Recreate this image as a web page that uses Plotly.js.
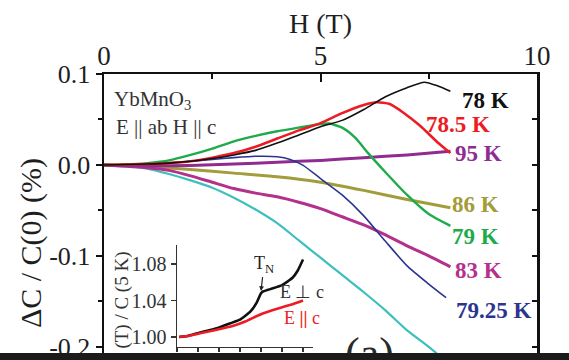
<!DOCTYPE html>
<html>
<head>
<meta charset="utf-8">
<script src="https://cdn.plot.ly/plotly-3.0.1.min.js"></script>
<style>
html,body{margin:0;padding:0;overflow:hidden;background:#fff;width:569px;height:360px;}
#chart{width:569px;height:380px;position:absolute;left:0;top:0;}
#bar{position:absolute;left:0;top:353px;width:569px;height:7px;background:#1b1b1b;z-index:10;}
</style>
</head>
<body>
<div id="chart"></div>
<div id="bar"></div>
<script>
// ---- main panel data: H (T) vs dC/C(0) (%) ----
const h78   = [0,0.5,1,1.5,2,2.5,3,3.5,4,4.5,5,5.5,6,6.5,7,7.4,7.7,8];
const c78   = [0,0.0005,0.001,0.002,0.004,0.007,0.011,0.016,0.024,0.033,0.042,0.049,0.061,0.075,0.085,0.091,0.087,0.081];
const h785  = [0,1,1.5,2,2.5,3,3.5,4,4.5,5,5.5,6,6.3,6.6,6.9,7.3,7.7,8];
const c785  = [0,0.001,0.002,0.004,0.008,0.013,0.02,0.029,0.038,0.046,0.057,0.066,0.069,0.067,0.058,0.043,0.025,0.013];
const h79   = [0,0.5,1,1.5,2,2.5,3,3.5,4,4.5,5,5.2,5.5,5.8,6.1,6.5,7,7.5,8];
const c79   = [0,0.0005,0.002,0.005,0.011,0.018,0.026,0.032,0.037,0.041,0.045,0.0455,0.041,0.03,0.013,-0.008,-0.033,-0.054,-0.067];
const h7925 = [0,1,2,2.5,3,3.5,4,4.3,4.6,5,5.5,6,6.5,7,7.5,7.9];
const c7925 = [0,0.001,0.004,0.006,0.008,0.0095,0.009,0.006,-0.0005,-0.015,-0.033,-0.056,-0.084,-0.111,-0.131,-0.146];
const h95   = [0,1,2,3,4,5,6,7,8];
const c95   = [0,-0.001,-0.0005,0.001,0.003,0.005,0.008,0.011,0.015];
const h86   = [0,1,2,3,4,5,6,7,8];
const c86   = [0,-0.002,-0.005,-0.009,-0.013,-0.019,-0.028,-0.038,-0.047];
const h83   = [0,1,1.5,2,2.5,3,3.5,4,4.5,5,5.5,6,6.5,7,7.5,8];
const c83   = [0,-0.003,-0.006,-0.012,-0.019,-0.026,-0.031,-0.035,-0.041,-0.048,-0.057,-0.066,-0.077,-0.089,-0.1,-0.112];
const hCy   = [0,0.5,1,1.5,2,2.5,3,3.5,4,4.5,5,5.5,6,6.5,7,7.5,8];
const cCy   = [0,-0.001,-0.004,-0.01,-0.017,-0.025,-0.036,-0.049,-0.064,-0.083,-0.102,-0.121,-0.14,-0.16,-0.182,-0.2,-0.22];

const seriesNames = ['80 K','86 K','83 K','95 K','79.25 K','79 K','78.5 K','78 K'];
const labelText   = ['78 K','78.5 K','95 K','86 K','79 K','83 K','79.25 K'];

// ---- inset data: C(T)/C(5 K) vs T ----
const tPerp = [2,10,22,38,53,60,70,76,80,82,86,90,100,110,115,120];
const cPerp = [1.0,1.001,1.005,1.0095,1.016,1.019,1.028,1.038,1.048,1.050,1.0515,1.053,1.057,1.065,1.073,1.085];
const tPar  = [2,10,22,38,53,65,80,90,101,110,120];
const cPar  = [1.0,1.001,1.004,1.008,1.012,1.017,1.025,1.029,1.033,1.036,1.040];

const yTickVals = [0.1,0,-0.1,-0.2];
const yTickText = ['0.1','0.0','-0.1','-0.2'];
const xTickVals = [0,5,10];
const insetYTicks = [1.00,1.04,1.08];
const insetYText = ['1.00','1.04','1.08'];

const SERIF = 'Liberation Serif';
const INK = '#1e1e1e';

function ln(x,y,color,w,name){
  return {x:x,y:y,type:'scatter',mode:'lines',name:name,
          line:{color:color,width:w,shape:'spline',smoothing:0.6},hoverinfo:'skip'};
}
const traces = [
  ln(hCy,cCy,'#3dbfbd',2.2,seriesNames[0]),
  ln(h86,c86,'#a29c3a',3,seriesNames[1]),
  ln(h83,c83,'#b3318c',3,seriesNames[2]),
  ln(h95,c95,'#8f2b91',3,seriesNames[3]),
  ln(h7925,c7925,'#2b3590',1.6,seriesNames[4]),
  ln(h79,c79,'#1fab4b',2.4,seriesNames[5]),
  ln(h785,c785,'#ed1c24',2.6,seriesNames[6]),
  ln(h78,c78,'#111111',1.6,seriesNames[7]),
  {x:tPerp,y:cPerp,xaxis:'x3',yaxis:'y3',type:'scatter',mode:'lines',
   line:{color:'#111',width:2.6,shape:'spline',smoothing:0.5},hoverinfo:'skip'},
  {x:tPar,y:cPar,xaxis:'x3',yaxis:'y3',type:'scatter',mode:'lines',
   line:{color:'#ed1c24',width:2.6,shape:'spline',smoothing:0.5},hoverinfo:'skip'},
  {x:[0],y:[0],xaxis:'x',yaxis:'y2',type:'scatter',mode:'markers',marker:{opacity:0},hoverinfo:'skip'}
];

const labelColors = ['#111111','#ed1c24','#8f2b91','#a29c3a','#1fab4b','#b3318c','#2b3590'];
const labelX = [8.80,8.18,8.64,8.59,8.59,8.64,9.0];
const labelY = [0.0714,0.045,0.0121,-0.044,-0.0791,-0.1165,-0.1604];

const annotations = [];
for(let i=0;i<labelText.length;i++){
  annotations.push({x:labelX[i],y:labelY[i],xref:'x',yref:'y',text:'<b>'+labelText[i]+'</b>',
    showarrow:false,xanchor:'center',yanchor:'middle',
    font:{family:SERIF,size:23,color:labelColors[i]}});
}
annotations.push(
  {x:0.501,y:1.172,xref:'paper',yref:'paper',text:'H (T)',showarrow:false,
   font:{family:SERIF,size:28,color:INK},xanchor:'center',yanchor:'middle'},
  {x:-0.1686,y:0.419,xref:'paper',yref:'paper',text:'\u0394C / C(0) (%)',showarrow:false,textangle:-90,
   font:{family:SERIF,size:30,color:INK},xanchor:'center',yanchor:'middle'},
  {x:0.0185,y:0.9107,xref:'paper',yref:'paper',text:'YbMnO<sub>3</sub>',showarrow:false,
   font:{family:SERIF,size:21,color:'#333'},xanchor:'left',yanchor:'middle'},
  {x:0.023,y:0.818,xref:'paper',yref:'paper',text:'E || ab H || c',showarrow:false,
   font:{family:SERIF,size:21,color:'#333'},xanchor:'left',yanchor:'middle'},
  {x:0.0416,y:0.1924,xref:'paper',yref:'paper',text:'C (T) / C (5 K)',showarrow:false,textangle:-90,
   font:{family:SERIF,size:19,color:'#333'},xanchor:'center',yanchor:'middle'},
  {x:80,y:1.0504,xref:'x3',yref:'y3',text:'T<sub>N</sub>',showarrow:true,arrowhead:2,arrowsize:0.8,
   arrowwidth:1.2,arrowcolor:'#222',ax:3,ay:-27,font:{family:SERIF,size:18,color:'#222'}},
  {x:119,y:1.0493,xref:'x3',yref:'y3',text:'E \u22a5 c',showarrow:false,
   font:{family:SERIF,size:18,color:'#333'},xanchor:'center',yanchor:'middle'},
  {x:119,y:1.0208,xref:'x3',yref:'y3',text:'E <b>||</b> c',showarrow:false,
   font:{family:SERIF,size:18,color:'#ed1c24'},xanchor:'center',yanchor:'middle'},
  {x:0.614,y:0.131,xref:'paper',yref:'paper',text:'(a)',showarrow:false,
   font:{family:SERIF,size:44,color:'#2a2a2a'},xanchor:'center',yanchor:'top'}
);

const layout = {
  width:569,height:380,
  margin:{l:104,r:32,t:74,b:15},
  paper_bgcolor:'#fff',plot_bgcolor:'rgba(0,0,0,0)',
  showlegend:false,
  font:{family:SERIF,color:INK},
  xaxis:{side:'top',range:[0,10],tickmode:'array',tickvals:xTickVals,ticks:'inside',ticklen:8,tickwidth:2,
    tickcolor:'#111',showline:true,linewidth:2.2,linecolor:'#111',showgrid:false,zeroline:false,
    ticklabelstandoff:-4,
    tickfont:{family:SERIF,size:27,color:INK},
    minor:{tickmode:'array',tickvals:[2.5,7.5],ticks:'inside',ticklen:5,tickwidth:2,tickcolor:'#111'}},
  yaxis:{range:[-0.22,0.1],tickmode:'array',tickvals:yTickVals,ticktext:yTickText,ticks:'outside',ticklen:6,
    tickwidth:2,tickcolor:'#111',showline:true,linewidth:2.5,linecolor:'#111',showgrid:false,zeroline:false,
    tickfont:{family:SERIF,size:26,color:INK},
    minor:{tickmode:'array',tickvals:[0.05,-0.05,-0.15],ticks:'outside',ticklen:4,tickwidth:2,tickcolor:'#111'}},
  yaxis2:{overlaying:'y',side:'right',range:[-0.22,0.1],tickmode:'array',tickvals:[0.1,0.05,0,-0.05,-0.1,-0.15,-0.2],
    showticklabels:false,ticks:'inside',ticklen:5,tickwidth:2,tickcolor:'#111',showline:true,linewidth:2.5,
    linecolor:'#111',showgrid:false,zeroline:false},
  xaxis3:{domain:[0.1686,0.4827],anchor:'y3',range:[0,129.5],tickmode:'array',tickvals:[0,20,40,60,80,100,120],
    showticklabels:false,ticks:'outside',ticklen:4,tickwidth:1.5,tickcolor:'#333',showline:true,linewidth:1.5,
    linecolor:'#333',showgrid:false,zeroline:false},
  yaxis3:{domain:[0.0619,0.4124],anchor:'x3',range:[0.989,1.101],tickmode:'array',tickvals:insetYTicks,
    ticktext:insetYText,ticks:'outside',ticklen:5,tickwidth:1.5,tickcolor:'#333',showline:true,linewidth:1.5,
    linecolor:'#333',showgrid:false,zeroline:false,tickfont:{family:SERIF,size:20,color:'#333'}},
  annotations:annotations
};

Plotly.newPlot('chart',traces,layout,{displayModeBar:false,staticPlot:true});
</script>
</body>
</html>
